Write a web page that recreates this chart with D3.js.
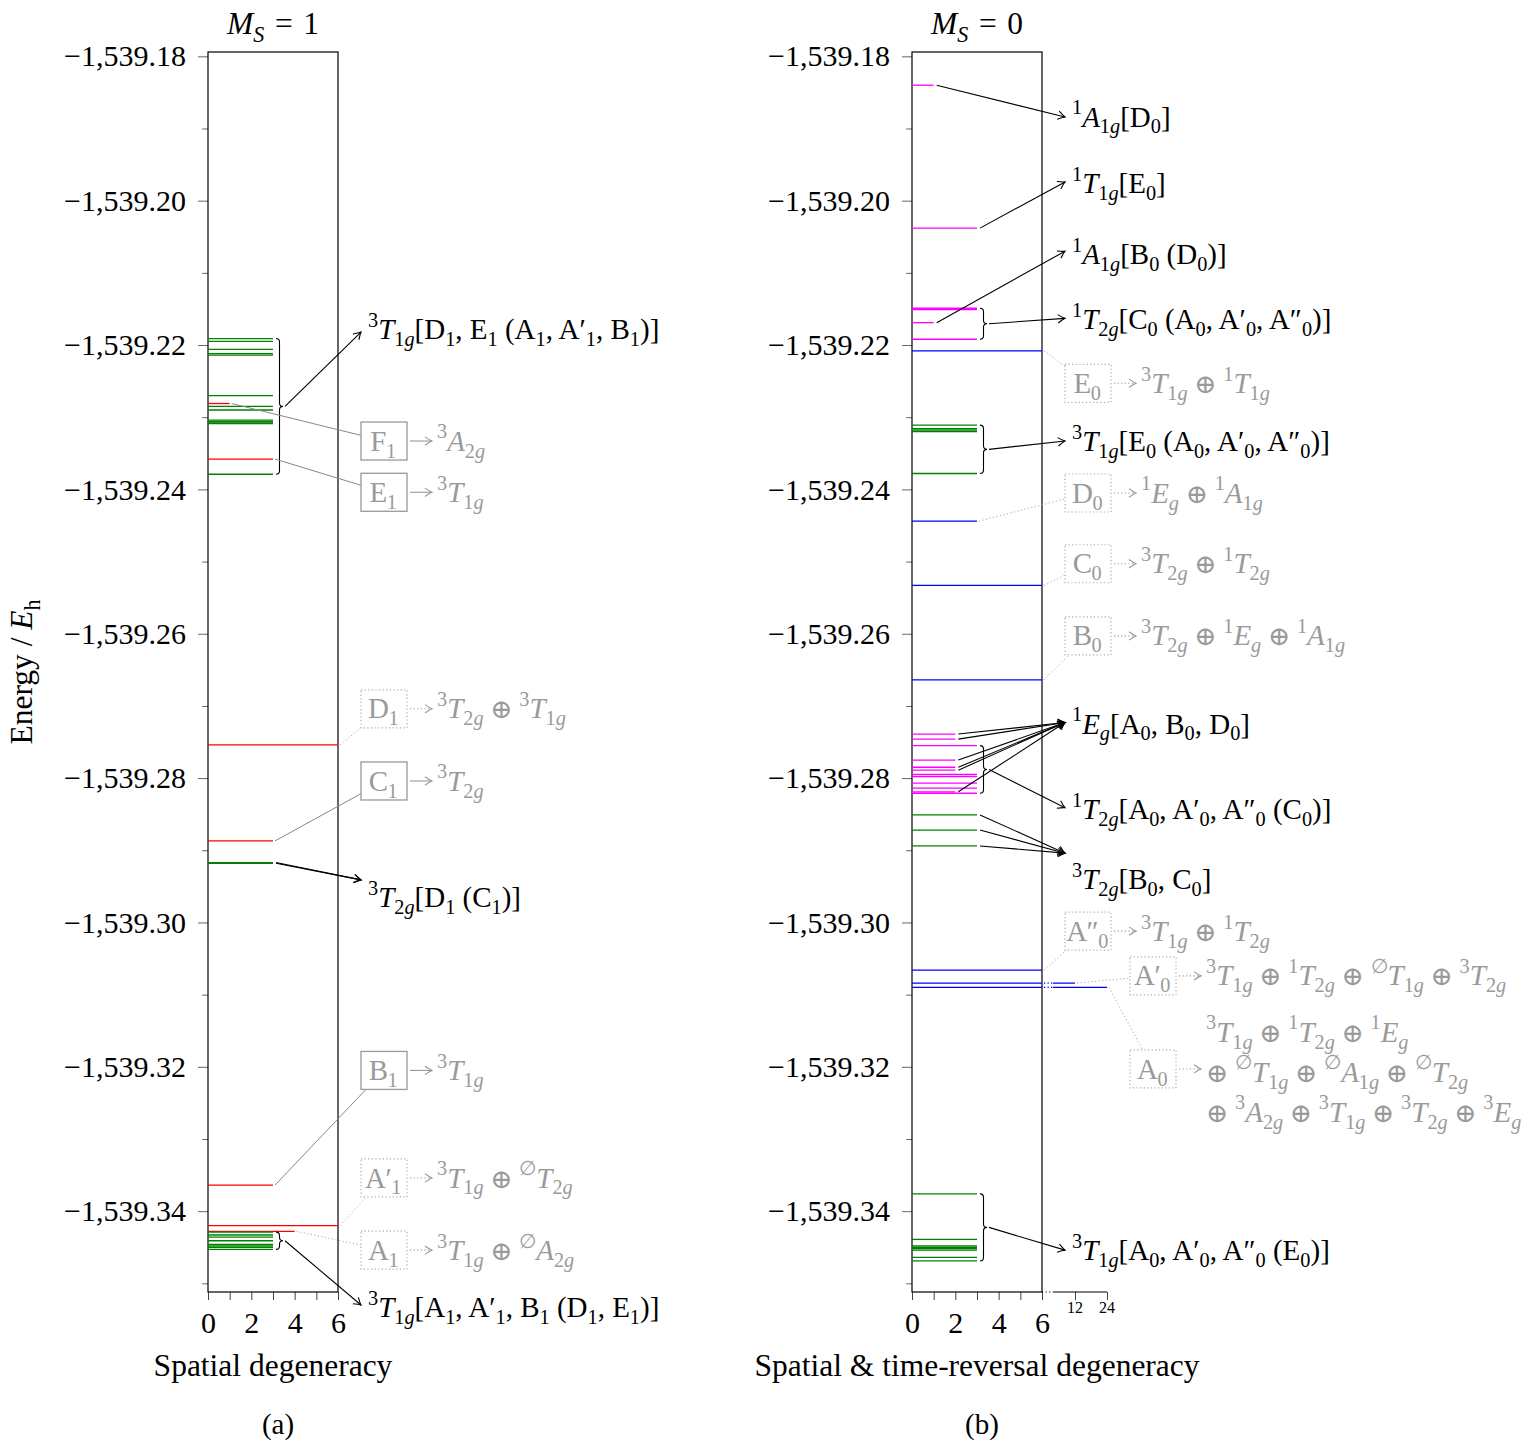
<!DOCTYPE html>
<html>
<head>
<meta charset="utf-8">
<script src="https://cdn.jsdelivr.net/npm/d3@7"></script>
<style>
  body { margin: 0; background: #fff; }
  text { white-space: pre; }
</style>
</head>
<body>
<svg id="chart" width="1529" height="1440"></svg>
<script>
// ---------------- data ----------------
const energyMajorTicks = [-1539.18, -1539.20, -1539.22, -1539.24, -1539.26, -1539.28, -1539.30, -1539.32, -1539.34];
const energyMinorTicks = [-1539.19, -1539.21, -1539.23, -1539.25, -1539.27, -1539.29, -1539.31, -1539.33, -1539.35];
const degTicksMs1 = [0, 1, 2, 3, 4, 5, 6];
const degTicksMs0 = [0, 1, 2, 3, 4, 5, 6, 12, 24];
const degTickLabels = [0, 2, 4, 6];
const degTickLabelsSmall = [12, 24];

// M_S = 1 levels: [energy / Eh, spatial degeneracy, kind]
const levelsMs1 = [
  [-1539.2191, 3, "trip"], [-1539.2195, 3, "trip"], [-1539.2206, 3, "trip"],
  [-1539.2212, 3, "trip"], [-1539.2214, 3, "trip"], [-1539.2270, 3, "trip"],
  [-1539.2281, 1, "ref"],                                   // F1
  [-1539.2285, 3, "trip"], [-1539.2290, 3, "trip"],
  [-1539.2304, 3, "trip"], [-1539.2306, 3, "trip"], [-1539.2308, 3, "trip"], [-1539.2309, 3, "trip"],
  [-1539.2358, 3, "ref"],                                   // E1
  [-1539.2379, 3, "trip"],
  [-1539.2754, 6, "ref"],                                   // D1
  [-1539.2887, 3, "ref"],                                   // C1
  [-1539.2917, 3, "trip"], [-1539.2918, 3, "trip"],
  [-1539.3364, 3, "ref"],                                   // B1
  [-1539.3420, 6, "ref"],                                   // A1'
  [-1539.3428, 4, "ref"],                                   // A1
  [-1539.3429, 3, "trip"], [-1539.3433, 3, "trip"], [-1539.3436, 3, "trip"], [-1539.3441, 3, "trip"],
  [-1539.3446, 3, "trip"], [-1539.3448, 3, "trip"], [-1539.3450, 3, "trip"], [-1539.3453, 3, "trip"]
];

// M_S = 0 levels: [energy / Eh, spatial & time-reversal degeneracy, kind]
const levelsMs0 = [
  [-1539.1840, 1, "sing"], [-1539.2038, 3, "sing"],
  [-1539.2149, 3, "sing"], [-1539.2151, 3, "sing"], [-1539.2169, 1, "sing"], [-1539.2192, 3, "sing"],
  [-1539.2208, 6, "ref"],                                   // E0
  [-1539.2311, 3, "trip"], [-1539.2316, 3, "trip"], [-1539.2318, 3, "trip"], [-1539.2320, 3, "trip"],
  [-1539.2378, 3, "trip"],
  [-1539.2444, 3, "ref"],                                   // D0
  [-1539.2533, 6, "ref"],                                   // C0
  [-1539.2664, 6, "ref"],                                   // B0
  [-1539.2739, 2, "sing"], [-1539.2746, 2, "sing"], [-1539.2775, 2, "sing"],
  [-1539.2785, 2, "sing"], [-1539.2789, 2, "sing"], [-1539.2819, 2, "sing"],
  [-1539.2755, 3, "sing"], [-1539.2795, 3, "sing"], [-1539.2798, 3, "sing"],
  [-1539.2807, 3, "sing"], [-1539.2814, 3, "sing"], [-1539.2821, 3, "sing"],
  [-1539.2851, 3, "trip"], [-1539.2872, 3, "trip"], [-1539.2894, 3, "trip"],
  [-1539.3066, 6, "ref"],                                   // A0''
  [-1539.3084, 12, "ref"],                                  // A0'
  [-1539.3090, 24, "ref"],                                  // A0
  [-1539.3376, 3, "trip"], [-1539.3439, 3, "trip"],
  [-1539.3448, 3, "trip"], [-1539.3450, 3, "trip"], [-1539.3452, 3, "trip"], [-1539.3454, 3, "trip"],
  [-1539.3464, 3, "trip"], [-1539.3469, 3, "trip"]
];

// Term labels: text, label energy, arrow-tip energy, source (brace over a range or individual levels)
const termsMs1 = [
  { text: "^{3}*T*_{1*g*}[D_{1}, E_{1} (A_{1}, A′_{1}, B_{1})]", at: -1539.2179, to: -1539.2182, brace: [-1539.2191, -1539.2379] },
  { text: "^{3}*T*_{2*g*}[D_{1} (C_{1})]", at: -1539.2965, to: -1539.2941, levels: [-1539.2917, -1539.2918] },
  { text: "^{3}*T*_{1*g*}[A_{1}, A′_{1}, B_{1} (D_{1}, E_{1})]", at: -1539.3533, to: -1539.3530, brace: [-1539.3429, -1539.3453] }
];
const termsMs0 = [
  { text: "^{1}*A*_{1*g*}[D_{0}]", at: -1539.1884, to: -1539.1884, levels: [-1539.1840] },
  { text: "^{1}*T*_{1*g*}[E_{0}]", at: -1539.1976, to: -1539.1974, levels: [-1539.2038] },
  { text: "^{1}*A*_{1*g*}[B_{0} (D_{0})]", at: -1539.2075, to: -1539.2070, levels: [-1539.2169] },
  { text: "^{1}*T*_{2*g*}[C_{0} (A_{0}, A′_{0}, A″_{0})]", at: -1539.2165, to: -1539.2163, brace: [-1539.2149, -1539.2192] },
  { text: "^{3}*T*_{1*g*}[E_{0} (A_{0}, A′_{0}, A″_{0})]", at: -1539.2334, to: -1539.2333, brace: [-1539.2311, -1539.2378] },
  { text: "^{1}*E*_{*g*}[A_{0}, B_{0}, D_{0}]", at: -1539.2725, to: -1539.2723,
    levels: [-1539.2739, -1539.2746, -1539.2775, -1539.2785, -1539.2789, -1539.2819] },
  { text: "^{1}*T*_{2*g*}[A_{0}, A′_{0}, A″_{0} (C_{0})]", at: -1539.2844, to: -1539.2841, brace: [-1539.2755, -1539.2821] },
  { text: "^{3}*T*_{2*g*}[B_{0}, C_{0}]", at: -1539.2941, to: -1539.2904, levels: [-1539.2851, -1539.2872, -1539.2894] },
  { text: "^{3}*T*_{1*g*}[A_{0}, A′_{0}, A″_{0} (E_{0})]", at: -1539.3454, to: -1539.3454, brace: [-1539.3376, -1539.3469] }
];

// Reference configurations: name, decomposition, level energy, box energy, box style
const refsMs1 = [
  { name: "F_{1}", terms: ["^{3}*A*_{2*g*}"], level: -1539.2281, box: -1539.2333, dotted: false },
  { name: "E_{1}", terms: ["^{3}*T*_{1*g*}"], level: -1539.2358, box: -1539.2404, dotted: false },
  { name: "D_{1}", terms: ["^{3}*T*_{2*g*} ⊕ ^{3}*T*_{1*g*}"], level: -1539.2754, box: -1539.2704, dotted: true },
  { name: "C_{1}", terms: ["^{3}*T*_{2*g*}"], level: -1539.2887, box: -1539.2804, dotted: false },
  { name: "B_{1}", terms: ["^{3}*T*_{1*g*}"], level: -1539.3364, box: -1539.3205, dotted: false },
  { name: "A′_{1}", terms: ["^{3}*T*_{1*g*} ⊕ ^{∅}*T*_{2*g*}"], level: -1539.3420, box: -1539.3354, dotted: true },
  { name: "A_{1}", terms: ["^{3}*T*_{1*g*} ⊕ ^{∅}*A*_{2*g*}"], level: -1539.3428, box: -1539.3454, dotted: true }
];
const refsMs0 = [
  { name: "E_{0}", terms: ["^{3}*T*_{1*g*} ⊕ ^{1}*T*_{1*g*}"], level: -1539.2208, box: -1539.2253, dotted: true },
  { name: "D_{0}", terms: ["^{1}*E*_{*g*} ⊕ ^{1}*A*_{1*g*}"], level: -1539.2444, box: -1539.2405, dotted: true },
  { name: "C_{0}", terms: ["^{3}*T*_{2*g*} ⊕ ^{1}*T*_{2*g*}"], level: -1539.2533, box: -1539.2503, dotted: true },
  { name: "B_{0}", terms: ["^{3}*T*_{2*g*} ⊕ ^{1}*E*_{*g*} ⊕ ^{1}*A*_{1*g*}"], level: -1539.2664, box: -1539.2603, dotted: true },
  { name: "A″_{0}", terms: ["^{3}*T*_{1*g*} ⊕ ^{1}*T*_{2*g*}"], level: -1539.3066, box: -1539.3012, dotted: true },
  { name: "A′_{0}", terms: ["^{3}*T*_{1*g*} ⊕ ^{1}*T*_{2*g*} ⊕ ^{∅}*T*_{1*g*} ⊕ ^{3}*T*_{2*g*}"], level: -1539.3084, box: -1539.3074, dotted: true, far: true },
  { name: "A_{0}", terms: ["^{3}*T*_{1*g*} ⊕ ^{1}*T*_{2*g*} ⊕ ^{1}*E*_{*g*}",
                           "⊕ ^{∅}*T*_{1*g*} ⊕ ^{∅}*A*_{1*g*} ⊕ ^{∅}*T*_{2*g*}",
                           "⊕ ^{3}*A*_{2*g*} ⊕ ^{3}*T*_{1*g*} ⊕ ^{3}*T*_{2*g*} ⊕ ^{3}*E*_{*g*}"],
    level: -1539.3090, box: -1539.3203, dotted: true, far: true }
];

// ---------------- drawing ----------------
const FONT = "'Liberation Serif', 'DejaVu Serif', serif";
const FS = 29;          // annotation text
const FS_TICK = 30;     // energy / degeneracy tick labels
const FS_TITLE = 31.5;  // axis titles
const GRAY = "#9a9a9a";
const svg = d3.select("#chart").attr("font-family", FONT);

const y = d3.scaleLinear().domain([-1539.3512, -1539.1794]).range([1292, 52]);

const defs = svg.append("defs");
function arrowMarker(id, color) {
  defs.append("marker").attr("id", id)
    .attr("viewBox", "-10 -6 12 12").attr("refX", 0).attr("refY", 0)
    .attr("markerWidth", 12).attr("markerHeight", 12)
    .attr("markerUnits", "userSpaceOnUse").attr("orient", "auto")
    .append("path").attr("d", "M-7,-4.2 Q-2.5,-1 0,0 Q-2.5,1 -7,4.2")
    .attr("fill", "none").attr("stroke", color).attr("stroke-width", 1.1);
}
arrowMarker("arrBlack", "#000");
arrowMarker("arrGray", GRAY);

// Tiny markup: ^{..} superscript, _{..} subscript, *..* italic; ⊕ gets narrower spacing
function rich(sel, str, fs) {
  str = str.replace(/ ⊕ /g, "\u2005⊕\u2005").replace(/^⊕ /, "⊕\u2005");
  const segs = [];
  let italic = false, level = 0, buf = "";
  const stack = [];
  const flush = () => { if (buf) { segs.push({ t: buf, it: italic, lv: level }); buf = ""; } };
  for (let i = 0; i < str.length; i++) {
    const c = str[i];
    if (c === "*") { flush(); italic = !italic; }
    else if ((c === "^" || c === "_") && str[i + 1] === "{") { flush(); stack.push(level); level = c === "^" ? 1 : -1; i++; }
    else if (c === "}" && stack.length) { flush(); level = stack.pop(); }
    else buf += c;
  }
  flush();
  let cur = 0;
  segs.forEach(s => {
    const off = s.lv === 1 ? -0.42 * fs : s.lv === -1 ? 0.24 * fs : 0;
    const ts = sel.append("tspan").text(s.t)
      .attr("dy", off - cur)
      .attr("font-size", s.lv ? fs * 0.7 : fs)
      .attr("font-style", s.it ? "italic" : "normal");
    if (s.t.includes("⊕")) ts.attr("font-size", (s.lv ? fs * 0.7 : fs) * 0.92);
    cur = off;
  });
  return sel;
}

function clipToBox(p, c, hw, hh) {
  const dx = p[0] - c[0], dy = p[1] - c[1];
  const t = Math.min(dx ? hw / Math.abs(dx) : Infinity, dy ? hh / Math.abs(dy) : Infinity);
  return [c[0] + t * dx, c[1] + t * dy];
}

function drawPanel(cfg) {
  const x = cfg.x;
  const g = svg.append("g");
  const x0 = x(0), x6 = x(6);
  const top = y.range()[1], bottom = y.range()[0];

  // energy axis
  g.append("g").attr("transform", `translate(${x0},0)`)
    .call(d3.axisLeft(y).tickValues(energyMinorTicks).tickSize(6).tickFormat(""))
    .call(s => s.select(".domain").remove())
    .call(s => s.selectAll("line").attr("stroke", "#666"));
  g.append("g").attr("transform", `translate(${x0},0)`)
    .call(d3.axisLeft(y).tickValues(energyMajorTicks).tickSize(10).tickPadding(12).tickFormat(d3.format(",.2f")))
    .call(s => s.select(".domain").remove())
    .call(s => s.selectAll("line").attr("stroke", "#666"))
    .call(s => s.selectAll("text").attr("font-size", FS_TICK).attr("font-family", FONT).attr("fill", "#000"));

  // degeneracy axis
  g.append("g").attr("transform", `translate(0,${bottom})`)
    .call(d3.axisBottom(x).tickValues(cfg.ticks).tickSize(8).tickPadding(12)
      .tickFormat(d => degTickLabels.includes(d) ? d : ""))
    .call(s => s.select(".domain").remove())
    .call(s => s.selectAll("line").attr("stroke", "#444"))
    .call(s => s.selectAll("text").attr("font-size", FS_TICK).attr("font-family", FONT).attr("fill", "#000"));
  if (cfg.broken) {
    g.append("g").attr("transform", `translate(0,${bottom})`)
      .selectAll("text").data(degTickLabelsSmall).join("text")
      .attr("x", d => x(d)).attr("y", 21).attr("text-anchor", "middle")
      .attr("font-size", 16).text(d => d);
    g.append("line").attr("x1", x6).attr("x2", x(8)).attr("y1", bottom).attr("y2", bottom)
      .attr("stroke", "#000").attr("stroke-dasharray", "1.2,2.4");
    g.append("line").attr("x1", x(8)).attr("x2", x(24)).attr("y1", bottom).attr("y2", bottom)
      .attr("stroke", "#000").attr("stroke-width", 1.1);
  }

  // frame
  g.append("rect").attr("x", x0).attr("y", top).attr("width", x6 - x0).attr("height", bottom - top)
    .attr("fill", "none").attr("stroke", "#000").attr("stroke-width", 1.2);

  // energy levels (reference configurations first)
  const order = cfg.levels.slice().sort((a, b) => (a[2] === "ref" ? 0 : 1) - (b[2] === "ref" ? 0 : 1));
  const lv = g.append("g");
  lv.selectAll("path.solid").data(order).join("path")
    .attr("d", d => {
      const yy = y(d[0]);
      let p = `M${x0},${yy}H${x(Math.min(d[1], 6))}`;
      if (d[1] > 6) p += `M${x(8)},${yy}H${x(d[1])}`;
      return p;
    })
    .attr("stroke", d => cfg.colors[d[2]]).attr("stroke-width", 1.3).attr("fill", "none");
  lv.selectAll("path.gap").data(order.filter(d => d[1] > 6)).join("path")
    .attr("d", d => `M${x6 + 2},${y(d[0])}H${x(8)}`)
    .attr("stroke", d => cfg.colors[d[2]]).attr("stroke-width", 1.3).attr("stroke-dasharray", "1.3,2.2");

  const degOf = e => cfg.levels.find(d => d[0] === e)[1];
  const labelX = x6 + 30, tipX = x6 + 23;

  // term labels with braces and arrows
  cfg.terms.forEach(t => {
    const starts = [];
    if (t.brace) {
      const bx = x(3) + 3, w = 7;
      const y1 = y(t.brace[0]), y2 = y(t.brace[1]), ym = (y1 + y2) / 2;
      const h = w / 2;
      g.append("path")
        .attr("d", `M${bx},${y1}Q${bx + h},${y1} ${bx + h},${y1 + h}L${bx + h},${ym - h}Q${bx + h},${ym} ${bx + w},${ym}` +
                   `Q${bx + h},${ym} ${bx + h},${ym + h}L${bx + h},${y2 - h}Q${bx + h},${y2} ${bx},${y2}`)
        .attr("fill", "none").attr("stroke", "#000").attr("stroke-width", 1.1);
      starts.push([bx + w + 2, ym]);
    } else {
      t.levels.forEach(e => starts.push([x(degOf(e)) + 3, y(e)]));
    }
    starts.forEach(s => {
      g.append("line").attr("x1", s[0]).attr("y1", s[1]).attr("x2", tipX).attr("y2", y(t.to))
        .attr("stroke", "#000").attr("stroke-width", 1.1).attr("marker-end", "url(#arrBlack)");
    });
    rich(g.append("text").attr("x", labelX).attr("y", y(t.at) + 0.33 * FS).attr("fill", "#000"), t.text, FS);
  });

  // reference configuration boxes
  const bw = 46, bh = 38;
  cfg.refs.forEach(r => {
    const bl = (r.far ? x(24) : x6) + 23;
    const cy = y(r.box), cx = bl + bw / 2;
    const src = [x(degOf(r.level)) + 2, y(r.level)];
    const end = clipToBox(src, [cx, cy], bw / 2, bh / 2);
    g.append("line").attr("x1", src[0]).attr("y1", src[1]).attr("x2", end[0]).attr("y2", end[1])
      .attr("stroke", r.dotted ? "#aaa" : "#888").attr("stroke-width", 1)
      .attr("stroke-dasharray", r.dotted ? "1.2,2.4" : null);
    g.append("rect").attr("x", bl).attr("y", cy - bh / 2).attr("width", bw).attr("height", bh)
      .attr("fill", "#fff").attr("stroke", r.dotted ? "#aaa" : "#999").attr("stroke-width", r.dotted ? 1.2 : 1.3)
      .attr("stroke-dasharray", r.dotted ? "1.2,2.4" : null);
    rich(g.append("text").attr("x", cx - 1).attr("y", cy + 0.33 * FS).attr("text-anchor", "middle")
      .attr("fill", GRAY).attr("letter-spacing", -0.5), r.name, FS);
    g.append("line").attr("x1", bl + bw + 3).attr("x2", bl + bw + 25).attr("y1", cy).attr("y2", cy)
      .attr("stroke", GRAY).attr("stroke-width", 1.1)
      .attr("stroke-dasharray", r.dotted ? "1.2,2.4" : null)
      .attr("marker-end", "url(#arrGray)");
    const n = r.terms.length;
    r.terms.forEach((tm, i) => {
      const ty = cy + 3 * (n > 1 ? 1 : 0) + (i - (n - 1) / 2) * 40;
      rich(g.append("text").attr("x", bl + bw + 30).attr("y", ty + 0.33 * FS).attr("fill", GRAY), tm, FS);
    });
  });

  // titles
  const mid = (x0 + x6) / 2;
  rich(g.append("text").attr("x", mid).attr("y", 34).attr("text-anchor", "middle"), cfg.title, FS_TITLE);
  g.append("text").attr("x", mid).attr("y", 1376).attr("text-anchor", "middle").attr("font-size", FS_TITLE).text(cfg.xlabel);
  g.append("text").attr("x", mid + 5).attr("y", 1434).attr("text-anchor", "middle").attr("font-size", FS).text(cfg.caption);
}

drawPanel({
  x: d3.scaleLinear().domain([0, 6]).range([208, 338]),
  ticks: degTicksMs1, broken: false,
  levels: levelsMs1, terms: termsMs1, refs: refsMs1,
  colors: { ref: "#ff0000", trip: "#008000" },
  title: "*M*_{*S*}\u2004=\u20041", xlabel: "Spatial degeneracy", caption: "(a)"
});
drawPanel({
  x: d3.scaleLinear().domain([0, 6, 12, 24]).range([912, 1042, 1075, 1107]),
  ticks: degTicksMs0, broken: true,
  levels: levelsMs0, terms: termsMs0, refs: refsMs0,
  colors: { ref: "#0000ff", sing: "#ff00ff", trip: "#008000" },
  title: "*M*_{*S*}\u2004=\u20040", xlabel: "Spatial & time-reversal degeneracy", caption: "(b)"
});

// shared energy axis title
rich(svg.append("text").attr("transform", "translate(32,672) rotate(-90)").attr("text-anchor", "middle"),
  "Energy / *E*_{h}", FS_TITLE);
</script>
</body>
</html>
